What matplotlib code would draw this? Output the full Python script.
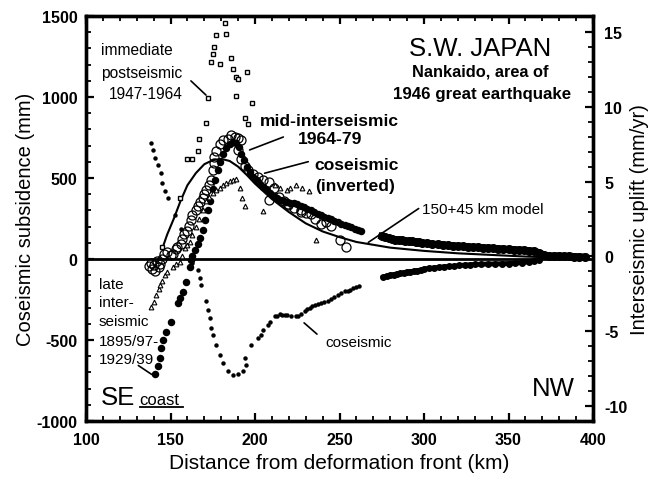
import matplotlib
matplotlib.use("Agg")
import matplotlib.pyplot as plt
from matplotlib.ticker import MultipleLocator, FixedLocator

plt.rcParams['font.family'] = ['Liberation Sans', 'DejaVu Sans']
plt.rcParams['axes.unicode_minus'] = False

# ---- 1946 coseismic vertical movement (mm, positive = subsidence) ----
cos_km = [138.5, 139.6, 141.0, 142.6, 144.4, 145.0, 146.7, 148.5, 152.7, 156.0,
          163.0, 166.0, 167.5, 168.0, 171.0, 172.0, 173.4, 174.0, 175.0, 177.0,
          179.0, 181.0, 184.0, 187.0, 190.0, 193.0, 194.0, 194.7, 197.6, 201.8,
          203.6, 205.0, 207.7, 209.0, 211.8, 213.0, 214.5, 216.0, 217.8, 219.0,
          221.5, 224.0, 225.4, 227.0, 229.6, 231.0, 232.5, 234.0, 235.5, 237.0,
          239.0, 241.0, 243.0, 245.0, 247.0, 249.0, 251.0, 253.0, 255.0, 256.5,
          258.0, 260.0, 261.5]
cos_mm = [716, 673, 623, 580, 531, 469, 420, 377, 272, 185,
          -25, -68, -117, -160, -259, -315, -364, -426, -469, -531,
          -593, -642, -691, -716, -710, -691, -611, -654, -531, -488,
          -469, -440, -407, -390, -352, -355, -340, -345, -346, -345,
          -350, -350, -352, -340, -321, -310, -300, -292, -284, -280,
          -270, -266, -259, -245, -235, -222, -210, -200, -195, -190,
          -180, -172, -167]

# NW part of the coseismic profile
cos_nw_km = [276, 278, 280, 282, 284, 286, 288, 290, 292, 294, 296, 298, 300,
             303, 306, 309, 312, 315, 318, 321, 324, 327, 330, 334, 338, 342,
             346, 350, 354, 358, 362, 365, 368]
cos_nw_mm = [-112, -104, -100, -96, -92, -88, -84, -80, -78, -75, -72, -68, -62,
             -58, -55, -52, -48, -46, -44, -40, -38, -36, -34, -32, -31, -30,
             -29, -28, -26, -22, -18, -12, -5]

# ---- coseismic movement, inverted (mm) ----
inv_km = [141.0, 142.6, 143.8, 144.4, 145.6, 147.5, 150.0, 154.4, 155.6, 157.4,
          159.0, 161.5, 162.0, 163.0, 164.5, 166.0, 167.5, 169.0, 170.5, 172.0,
          173.5, 175.0, 176.5, 178.0, 179.5, 181.0, 183.0, 185.0, 187.0, 189.0,
          190.5, 192.0, 193.5, 195.0, 197.0, 199.0, 201.0, 203.0, 205.0, 207.0,
          209.0, 211.0, 213.0, 215.0, 217.0, 219.0, 221.0, 223.0, 225.0, 227.0,
          229.0, 231.0, 233.0, 235.0, 237.0, 239.0, 241.0, 243.0, 245.0, 247.0,
          249.0, 251.0, 253.0, 255.0, 257.0, 259.0, 261.0, 263.0]
inv_mm = [-710, -660, -610, -549, -500, -450, -389, -272, -241, -204,
          -142, -49, -6, 20, 55, 90, 130, 180, 240, 300,
          360, 430, 490, 550, 600, 645, 685, 710, 725, 715,
          690, 650, 610, 570, 535, 505, 485, 465, 445, 425,
          405, 390, 375, 365, 358, 352, 348, 344, 338, 330,
          320, 310, 300, 290, 280, 270, 262, 254, 244, 234,
          226, 218, 210, 202, 195, 186, 178, 170]

inv_nw_km = [275, 277, 279, 281, 283, 285, 287, 289, 291, 293, 295, 297, 299,
             302, 305, 308, 311, 314, 317, 320, 323, 326, 329, 332, 335, 338,
             341, 344, 347, 350, 353, 356, 359, 362, 365, 368, 371, 374, 377,
             380, 383, 386, 389, 392, 395]
inv_nw_mm = [140, 135, 128, 124, 120, 118, 115, 112, 110, 108, 105, 102, 100,
             96, 92, 90, 88, 85, 82, 80, 78, 76, 74, 72, 70, 68,
             66, 64, 62, 60, 58, 56, 54, 52, 48, 40, 25, 20, 18,
             20, 16, 18, 15, 14, 12]

# ---- 150+45 km dislocation model (mm) ----
model_km = [145, 148, 152, 156, 160, 165, 170, 175, 180, 185, 190, 195, 200,
            210, 220, 230, 240, 250, 260, 280, 300, 320, 340, 360, 380, 395]
model_mm = [60, 150, 250, 360, 455, 530, 585, 610, 618, 605, 570, 520, 465,
            370, 290, 220, 170, 135, 105, 70, 50, 35, 25, 15, 8, 5]

# ---- uplift rates (mm/yr) ----
# immediate postseismic 1947-1964
post_km = [145, 155.6, 160, 163, 166, 167, 171, 172, 174, 175, 176, 177, 179,
           182, 183, 186, 187, 189, 190, 189, 195, 194, 196, 198]
post_rate = [0.65, 3.93, 6.53, 6.53, 7.06, 7.86, 8.93, 10.6, 13.0, 13.53, 14.0,
             14.8, 12.86, 15.6, 14.86, 13.26, 12.53, 12.0, 11.87, 10.73, 12.33,
             9.27, 8.87, 10.26]

# mid-interseismic 1964-79
mid_km = [137, 138.5, 139, 140, 141, 142, 143, 144, 145, 146, 148, 150, 151.5,
          153, 154, 156, 157, 158, 160, 161, 162, 163, 165, 166, 167.5, 169,
          170, 171, 173, 174, 175, 175.5, 176, 177, 179, 181, 184, 186, 188,
          190, 191.7, 190, 192, 194, 196, 199, 202, 205, 208, 208, 211, 214,
          217, 219.5, 219.5, 223, 227, 227, 230, 233, 235.5, 239, 242, 245,
          250, 254]
mid_rate = [-0.65, -0.43, -0.86, -0.59, -0.97, -0.32, -0.70, -0.49, -0.16, 0.16,
            0.32, 0.11, 0.13, 0.49, 0.65, 0.81, 1.19, 1.51, 1.73, 2.05, 2.42,
            2.75, 3.09, 3.35, 3.62, 3.89, 4.16, 4.43, 4.76, 5.08, 5.77, 6.26,
            6.64, 7.02, 7.52, 7.78, 7.85, 8.10, 7.98, 7.94, 7.78, 7.11, 6.48,
            6.05, 5.77, 5.51, 5.29, 5.13, 4.97, 3.76, 4.54, 3.95, 3.67, 3.49,
            3.42, 3.24, 3.09, 2.95, 2.92, 2.82, 2.48, 2.15, 2.32, 2.05, 1.07,
            0.60]

# late interseismic 1895/97-1929/39
late_km = [138.5, 140, 141.5, 143, 144, 145, 146.5, 148, 151.5, 153, 155.5, 157,
           158.5, 160, 161.5, 163, 165, 167, 169, 171, 173, 175, 177, 179, 181,
           183, 185, 187, 189, 191, 192.5, 194, 205, 212, 215, 219, 221, 224,
           228, 232, 236]
late_rate = [-3.40, -3.02, -2.59, -2.16, -1.93, -1.62, -1.26, -1.03, -0.73,
             -0.54, -0.40, 0.0, 0.53, 0.76, 0.93, 1.40, 1.94, 2.48, 3.13, 3.67,
             4.0, 4.27, 4.43, 4.59, 4.75, 4.91, 5.02, 5.10, 5.16, 4.54, 3.93,
             3.40, 3.02, 4.79, 4.54, 4.43, 4.59, 4.75, 4.54, 4.40, 1.08]

x_ticks = [100, 150, 200, 250, 300, 350, 400]
left_ticks = [-1000, -500, 0, 500, 1000, 1500]
right_ticks = [-10, -5, 0, 5, 10, 15]

fig = plt.figure(figsize=(6.57, 4.81), dpi=100)
ax = fig.add_axes([0.1309, 0.1227, 0.7717, 0.842])
ax2 = ax.twinx()

ax.set_xlim(100, 400)
ax.set_ylim(-1000, 1500)
ax2.set_ylim(-11.0, 16.07)

ax.axhline(0, color='black', lw=2.0, zorder=1)

ax.plot(model_km, model_mm, color='black', lw=1.5, zorder=2)
ax.plot(cos_km, cos_mm, 'o', color='black', ms=3.2, mec='none', zorder=3)
ax.plot(cos_nw_km, cos_nw_mm, '-o', color='black', ms=4.0, lw=3.5, zorder=3)
ax.plot(inv_km, inv_mm, 'o', color='black', ms=5.4, mec='none', zorder=3)
ax.plot(inv_nw_km, inv_nw_mm, '-o', color='black', ms=5.5, lw=5, zorder=3)

ax2.plot(post_km, post_rate, 's', mfc='white', mec='black', ms=3.2, mew=1.0)
ax2.plot(mid_km, mid_rate, 'o', mfc='none', mec='black', ms=6.5, mew=0.9)
ax2.plot(late_km, late_rate, '^', mfc='white', mec='black', ms=3.4, mew=0.8)

# axes, ticks, spines
for a in (ax, ax2):
    for s in a.spines.values():
        s.set_linewidth(2.4)

ax.xaxis.set_major_locator(FixedLocator(x_ticks))
ax.xaxis.set_minor_locator(MultipleLocator(10))
ax.yaxis.set_major_locator(FixedLocator(left_ticks))
ax.yaxis.set_minor_locator(MultipleLocator(100))
ax2.yaxis.set_major_locator(FixedLocator(right_ticks))
ax2.yaxis.set_minor_locator(MultipleLocator(1))

ax.tick_params(which='both', direction='in', top=True, right=False)
ax.tick_params(which='major', length=6, width=1.6, labelsize=11.5, pad=6)
ax.tick_params(which='minor', length=3.4, width=1.3)
ax.tick_params(axis='x', which='major', pad=8)
ax2.tick_params(which='both', direction='in', left=False, right=True)
ax2.tick_params(which='major', length=6, width=1.6, labelsize=11.5, pad=8)
ax2.tick_params(which='minor', length=3.4, width=1.3)
for lab in ax.get_xticklabels() + ax.get_yticklabels() + ax2.get_yticklabels():
    lab.set_fontweight('bold')

ax.set_xlabel('Distance from deformation front (km)', fontsize=15, labelpad=4)
ax.set_ylabel('Coseismic subsidence (mm)', fontsize=14.5, labelpad=1)
ax2.set_ylabel('Interseismic uplift (mm/yr)', fontsize=14.5, labelpad=2)

# annotations
ax.text(108.9, 1290, 'immediate', fontsize=11.2, va='center', ha='left')
ax.text(108.9, 1154, 'postseismic', fontsize=11.2, va='center', ha='left')
ax.text(113.6, 1019, '1947-1964', fontsize=11.2, va='center', ha='left')
ax.annotate('', xy=(172.2, 1000), xytext=(160.9, 1111),
            arrowprops=dict(arrowstyle='-', lw=1.2, color='black'))

ax.text(333.5, 1303, 'S.W. JAPAN', fontsize=18.5, ha='center', va='center')
ax.text(333.5, 1160, 'Nankaido, area of', fontsize=11.8, fontweight='bold',
        ha='center', va='center')
ax.text(334.5, 1019, '1946 great earthquake', fontsize=12.2, fontweight='bold',
        ha='center', va='center')

ax.text(243.8, 852, 'mid-interseismic', fontsize=12.6, fontweight='bold',
        ha='center', va='center')
ax.text(244.4, 741, '1964-79', fontsize=12.6, fontweight='bold',
        ha='center', va='center')
ax.annotate('', xy=(195.3, 667), xytext=(218.3, 759),
            arrowprops=dict(arrowstyle='-', lw=1.2, color='black'))

ax.text(259.8, 586, 'coseismic', fontsize=12.6, fontweight='bold',
        ha='center', va='center')
ax.text(259.2, 451, '(inverted)', fontsize=12.6, fontweight='bold',
        ha='center', va='center')
ax.annotate('', xy=(204.1, 525), xytext=(233.1, 605),
            arrowprops=dict(arrowstyle='-', lw=1.2, color='black'))

ax.text(298.8, 309, '150+45 km model', fontsize=11, ha='left', va='center')
ax.annotate('', xy=(265.7, 93), xytext=(298.2, 321),
            arrowprops=dict(arrowstyle='-', lw=1.2, color='black'))

for txt, y in [('late', -154), ('inter-', -265), ('seismic', -383),
               ('1895/97-', -506), ('1929/39', -617)]:
    ax.text(107.7, y, txt, fontsize=11, ha='left', va='center')
ax.annotate('', xy=(140.2, -722), xytext=(129.6, -648),
            arrowprops=dict(arrowstyle='-', lw=1.2, color='black'))

ax.text(261.5, -512, 'coseismic', fontsize=11, ha='center', va='center')
ax.annotate('', xy=(227.8, -383), xytext=(237.9, -475),
            arrowprops=dict(arrowstyle='-', lw=1.2, color='black'))

ax.text(109.0, -895, 'SE', fontsize=18.5, ha='left', va='baseline')
ax.text(131.5, -895, 'coast', fontsize=12, ha='left', va='baseline')
ax.plot([131.8, 157.3], [-915, -915], color='black', lw=1.3)
ax.text(376.3, -796, 'NW', fontsize=18.5, ha='center', va='center')

fig.savefig('out.png', dpi=100)
